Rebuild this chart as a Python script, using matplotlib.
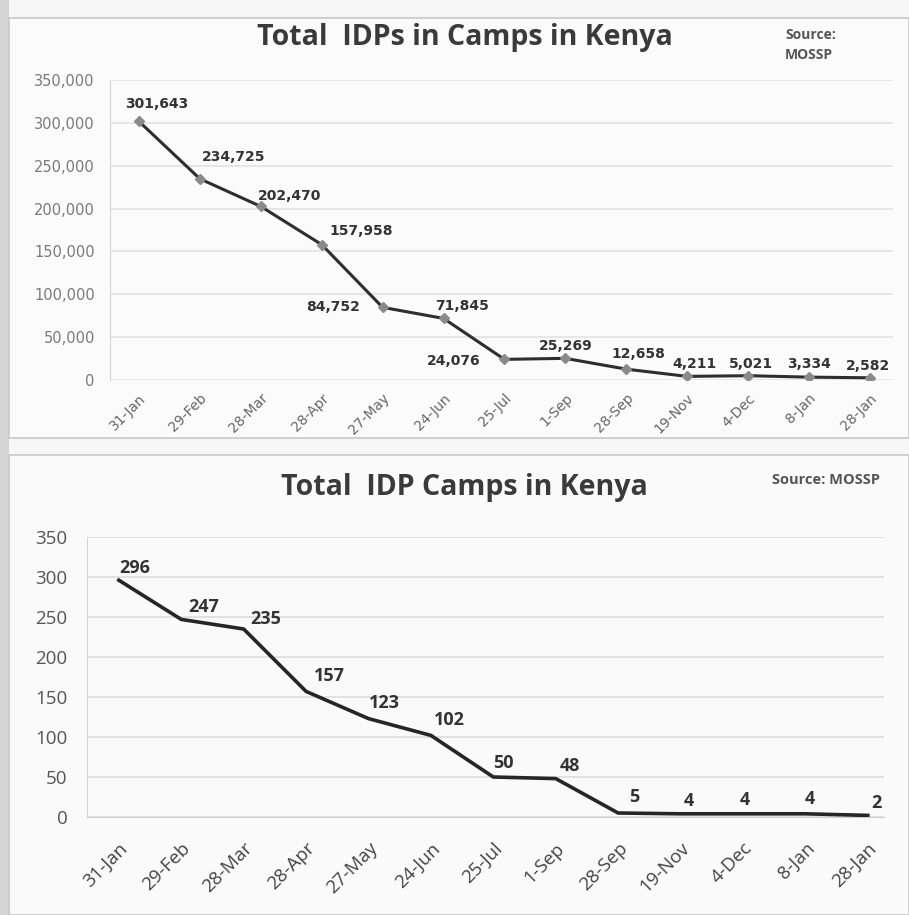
import numpy as np
import matplotlib
matplotlib.use("Agg")
import matplotlib.pyplot as plt
from matplotlib.patches import Rectangle
from matplotlib.ticker import FuncFormatter

# data
dates = ["31-Jan", "29-Feb", "28-Mar", "28-Apr", "27-May", "24-Jun", "25-Jul",
         "1-Sep", "28-Sep", "19-Nov", "4-Dec", "8-Jan", "28-Jan"]
idps = [301643, 234725, 202470, 157958, 84752, 71845, 24076,
        25269, 12658, 4211, 5021, 3334, 2582]
camps = [296, 247, 235, 157, 123, 102, 50, 48, 5, 4, 4, 4, 2]

# label offsets in pixels (dx, dy up)
idp_off = [(18, 17), (34, 22), (29, 10), (39, 14), (-50, 0), (19, 12), (-51, -2),
           (0, 12), (12, 15), (7, 12), (3, 12), (0, 13), (-2, 12)]
camp_off = [(16, 12), (22, 12), (22, 10), (23, 15), (16, 16), (19, 15), (10, 14),
            (14, 13), (16, 16), (8, 13), (2, 14), (4, 15), (9, 12)]

W, H = 909, 915
fig = plt.figure(figsize=(W / 100, H / 100), dpi=100)
fig.patch.set_facecolor("#f6f6f6")


def rect(l, t, r, b):
    return [l / W, 1 - b / H, (r - l) / W, (b - t) / H]


# scan edges / frames
for r in [Rectangle((0, 0), 9 / W, 1, facecolor="#d4d4d4", edgecolor="none"),
          Rectangle((9 / W, 1 - 438 / H), 1 - 9 / W, 420 / H, facecolor="#fbfbfb",
                    edgecolor="#c8c8c8", lw=1.2),
          Rectangle((9 / W, 0), 1 - 9 / W, 1 - 455 / H, facecolor="#fafafa",
                    edgecolor="#c8c8c8", lw=1.2)]:
    r.set_transform(fig.transFigure)
    r.set_zorder(-10)
    fig.patches.append(r)

x = np.arange(len(dates))

# ---- top chart
ax1 = fig.add_axes(rect(110, 80, 893, 380))
ax1.set_facecolor("none")
ax1.plot(x, idps, color="#2e2e2e", lw=2.2, marker="D", ms=5,
         mfc="#8a8a8a", mec="#8a8a8a", zorder=3)
for i, v in enumerate(idps):
    ax1.annotate(f"{v:,}", (x[i], v), xytext=idp_off[i], textcoords="offset pixels",
                 ha="center", va="center", fontsize=10, fontweight="bold",
                 family="DejaVu Sans", color="#333333")
ax1.set_ylim(0, 350000)
ax1.set_xlim(-0.476, 12.38)
ax1.set_yticks(np.arange(0, 350001, 50000))
ax1.yaxis.set_major_formatter(FuncFormatter(lambda v, p: f"{int(v):,}"))
ax1.set_xticks(x)
ax1.set_xticklabels(dates, rotation=45, ha="right", rotation_mode="anchor",
                    fontsize=10, color="#666666", family="DejaVu Sans")
for t in ax1.get_yticklabels():
    t.set_fontsize(10.5)
    t.set_color("#7a7a7a")
    t.set_family("DejaVu Sans")
ax1.tick_params(axis="y", length=0, pad=11)
ax1.tick_params(axis="x", length=0, pad=8)
ax1.grid(axis="y", color="#e2e2e2", lw=1.2)
for s in ["top", "right", "bottom"]:
    ax1.spines[s].set_visible(False)
ax1.spines["left"].set_color("#d6d6d6")
ax1.set_axisbelow(True)

fig.text(465 / W, 1 - 38 / H, "Total  IDPs in Camps in Kenya", ha="center", va="center",
         fontsize=20.5, fontweight="bold", family="Open Sans", color="#3a3a3a")
fig.text(785 / W, 1 - 35 / H, "Source:", ha="left", va="center",
         fontsize=10, fontweight="bold", family="Open Sans", color="#555555")
fig.text(785 / W, 1 - 55 / H, "MOSSP", ha="left", va="center",
         fontsize=10, fontweight="bold", family="Open Sans", color="#555555")

# ---- bottom chart
ax2 = fig.add_axes(rect(87, 537, 884, 817))
ax2.set_facecolor("none")
ax2.plot(x, camps, color="#262626", lw=2.6, zorder=3)
for i, v in enumerate(camps):
    ax2.annotate(f"{v}", (x[i], v), xytext=camp_off[i], textcoords="offset pixels",
                 ha="center", va="center", fontsize=13, fontweight="bold",
                 family="Open Sans", color="#333333")
ax2.set_ylim(0, 350)
ax2.set_xlim(-0.51, 12.26)
ax2.set_yticks(np.arange(0, 351, 50))
ax2.set_xticks(x)
ax2.set_xticklabels(dates, rotation=45, ha="right", rotation_mode="anchor",
                    fontsize=13.5, color="#444444", family="Open Sans")
for t in ax2.get_yticklabels():
    t.set_fontsize(13.5)
    t.set_color("#555555")
    t.set_family("Open Sans")
ax2.tick_params(axis="y", length=0, pad=14)
ax2.tick_params(axis="x", length=0, pad=16)
ax2.grid(axis="y", color="#dcdcdc", lw=1.2)
for s in ["top", "right"]:
    ax2.spines[s].set_visible(False)
ax2.spines["left"].set_color("#d6d6d6")
ax2.spines["bottom"].set_color("#cfcfcf")
ax2.set_axisbelow(True)

fig.text(464 / W, 1 - 488 / H, "Total  IDP Camps in Kenya", ha="center", va="center",
         fontsize=20.5, fontweight="bold", family="Open Sans", color="#3a3a3a")
fig.text(880 / W, 1 - 480 / H, "Source: MOSSP", ha="right", va="center",
         fontsize=10.5, fontweight="bold", family="Open Sans", color="#555555")

fig.savefig("out.png", dpi=100, facecolor=fig.get_facecolor())
